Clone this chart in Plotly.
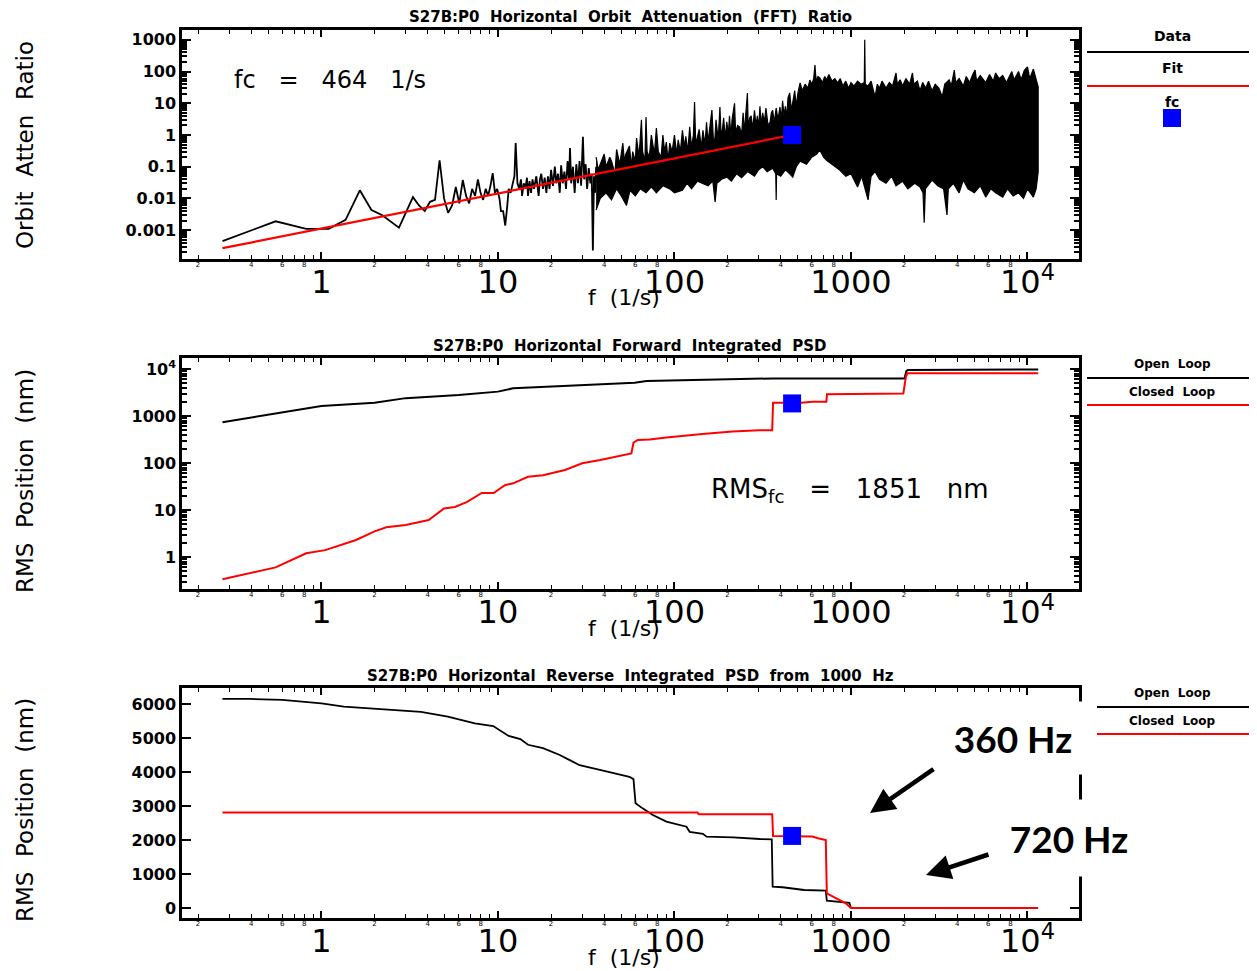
import numpy as np
import plotly.graph_objects as go

# ---------------- top panel: orbit attenuation (FFT) ratio ----------------
att_f = [0.275, 0.55, 0.82, 1.1, 1.37, 1.65, 1.92, 2.2, 2.75, 3.3, 3.57, 3.85, 4.12, 4.4,
         4.67, 4.95, 5.22, 5.5, 5.77, 6.04, 6.32, 6.6, 6.87, 7.14, 7.42, 7.7, 7.97, 8.24,
         8.52, 8.8, 9.07, 9.34, 9.62, 9.9, 10.2, 10.4, 10.7, 11.0, 11.3, 11.5, 11.8, 12.1,
         12.4, 12.6, 12.9, 13.2, 13.5, 13.7, 14.0, 14.3, 14.6, 14.8, 15.1, 15.4, 15.7, 16.0,
         16.5, 17.0, 17.3, 17.6, 18.0, 18.4, 18.8, 19.2, 19.6, 20.0, 20.5, 21.0, 21.4, 21.9,
         22.4, 22.8, 23.3, 23.8, 24.3, 24.8, 25.3, 25.6, 26.0, 26.6, 27.2, 27.8, 28.4, 29.0,
         29.6, 30.3, 30.8, 31.4, 32.0, 32.7, 33.4, 34.0, 34.5, 35.0, 35.5, 36.0]
att_v = [0.00045, 0.0019, 0.0011, 0.0011, 0.0021, 0.018, 0.0043, 0.003, 0.0012, 0.011, 0.006,
         0.004, 0.0078, 0.009, 0.16, 0.01, 0.0035, 0.006, 0.023, 0.007, 0.038, 0.012, 0.007,
         0.02, 0.012, 0.04, 0.015, 0.009, 0.02, 0.012, 0.025, 0.063, 0.015, 0.02, 0.01, 0.004,
         0.004, 0.0014, 0.006, 0.02, 0.015, 0.03, 0.05, 0.56, 0.03, 0.02, 0.04, 0.012, 0.03,
         0.02, 0.045, 0.012, 0.035, 0.015, 0.04, 0.02, 0.05, 0.012, 0.04, 0.06, 0.02, 0.045,
         0.015, 0.05, 0.02, 0.08, 0.025, 0.1, 0.03, 0.06, 0.015, 0.11, 0.03, 0.07, 0.02, 0.15,
         0.04, 0.39, 0.03, 0.1, 0.015, 0.12, 0.03, 0.15, 0.025, 0.87, 0.04, 0.12, 0.02, 0.09,
         0.03, 0.06, 0.00023, 0.05, 0.015, 0.1]

# dense part of the spectrum: upper and lower envelope of the noise band
band_hi_f = [36, 37, 38, 40, 41, 43, 44, 46, 47, 49, 51, 52, 53, 55.6, 57, 58, 60, 61, 63, 65,
             66, 68, 69, 70, 72, 74, 77, 79, 81, 84, 86, 88, 90, 92, 94, 97, 100, 103, 105, 108,
             111, 114, 116, 119, 122, 125, 128, 130, 132, 135, 138, 142, 145, 149, 152, 155,
             158, 163, 166, 169, 172, 177, 181, 184, 187, 190, 194, 198, 202, 205, 209, 212, 219,
             222, 228, 234, 240, 245, 249, 252, 259, 262, 267, 272, 278, 284, 290, 295, 300, 305,
             310, 316, 323, 330, 339, 348, 354, 360, 368, 377, 386, 396, 403, 410, 418, 425, 432,
             440, 450, 460, 470, 480, 490, 500, 515, 530, 550, 570, 585, 600, 615, 625, 635, 650,
             666, 690, 710, 727, 750, 780, 810, 840, 870, 900, 935, 970, 1000, 1040, 1090, 1140,
             1190, 1197, 1205, 1250, 1300, 1370, 1410, 1450, 1500, 1580, 1650, 1720, 1800, 1830,
             1900, 1960, 2050, 2150, 2230, 2270, 2380, 2460, 2550, 2650, 2750, 2880, 3000, 3150,
             3290, 3400, 3600, 3700, 3850, 3920, 4100, 4330, 4500, 4700, 4900, 5050, 5150, 5400,
             5800, 6100, 6400, 6600, 6900, 7240, 7600, 8150, 8400, 8900, 9200, 9600, 10000,
             10300, 10800, 11100, 11500]
band_hi = [0.2, 0.08, 0.12, 0.25, 0.1, 0.2, 0.15, 0.06, 0.35, 0.12, 0.56, 0.15, 0.25, 0.45,
           0.1, 0.3, 0.15, 0.8, 0.2, 3.0, 0.3, 0.15, 3.7, 0.3, 0.2, 1.0, 0.25, 1.66, 0.3, 0.2,
           1.0, 0.3, 0.6, 0.15, 0.56, 0.3, 1.0, 0.25, 0.7, 0.3, 1.4, 0.4, 0.9, 0.3, 1.8, 0.4, 1.0,
           11, 0.5, 0.8, 1.5, 0.4, 1.4, 0.5, 2.5, 0.6, 1.6, 6.1, 0.8, 0.6, 3.0, 0.7, 7.6, 0.9,
           1.5, 3.5, 0.8, 2.6, 1.0, 4.0, 0.9, 3.0, 10, 1.2, 2.0, 1.8, 1.0, 5, 1.2, 3, 21, 1.5,
           3.5, 4, 1.5, 6, 2.0, 4, 1.6, 8, 2, 5, 2.5, 7, 2.0, 2.5, 5, 6, 2.5, 7, 3, 7.6, 3, 12, 4,
           8, 3.5, 15, 21, 6, 12, 25, 8, 20, 44, 25, 40, 30, 54, 40, 60, 160, 50, 70, 63, 45, 70,
           55, 80, 50, 60, 44, 60, 35, 50, 30, 45, 35, 50, 40, 45, 1000, 40, 35, 50, 16, 40, 30,
           50, 30, 45, 35, 90, 40, 55, 35, 60, 40, 90, 40, 50, 25, 45, 30, 50, 25, 40, 30, 16,
           40, 55, 35, 112, 45, 60, 35, 70, 45, 80, 112, 50, 75, 45, 80, 50, 90, 60, 75, 45, 100,
           55, 100, 55, 110, 140, 60, 120, 70, 33]
band_lo_f = [36, 38, 41, 44, 47, 50, 53.5, 56, 60, 64, 69, 74, 79, 86, 94, 100, 111, 118, 125,
             135, 145, 155, 165, 170, 174, 185, 198, 210, 225, 240, 260, 284, 300, 316, 335, 360,
             375, 377, 379, 400, 425, 450, 468, 490, 515, 560, 600, 640, 666, 700, 727, 780, 860,
             935, 1000, 1090, 1150, 1250, 1300, 1370, 1450, 1580, 1700, 1800, 1960, 2100, 2300,
             2460, 2560, 2600, 2640, 2880, 3100, 3350, 3500, 3560, 3800, 4100, 4330, 4600, 5000,
             5400, 5800, 6200, 6600, 7240, 7700, 8300, 8900, 9500, 10000, 10800, 11200, 11500]
band_lo = [0.0043, 0.01, 0.015, 0.009, 0.02, 0.012, 0.006, 0.018, 0.012, 0.02, 0.015, 0.023,
           0.015, 0.025, 0.02, 0.015, 0.018, 0.03, 0.02, 0.035, 0.03, 0.025, 0.035, 0.0077, 0.03,
           0.04, 0.047, 0.035, 0.06, 0.045, 0.07, 0.05, 0.08, 0.1, 0.07, 0.09, 0.06, 0.009, 0.06,
           0.05, 0.08, 0.06, 0.047, 0.1, 0.15, 0.12, 0.2, 0.25, 0.34, 0.2, 0.16, 0.12, 0.08, 0.05,
           0.06, 0.023, 0.05, 0.009, 0.05, 0.07, 0.04, 0.03, 0.05, 0.025, 0.035, 0.02, 0.03,
           0.023, 0.015, 0.0017, 0.02, 0.038, 0.025, 0.02, 0.003, 0.02, 0.03, 0.015, 0.038, 0.02,
           0.015, 0.025, 0.011, 0.02, 0.015, 0.011, 0.02, 0.012, 0.015, 0.01, 0.02, 0.011, 0.02,
           0.068]

fit_f = [0.275, 464]
fit_v = [0.00027, 1.0]
fc = 464
fc_ratio = 1.0

# ---------------- middle panel: forward integrated PSD ----------------
fwd_open_f = [0.275, 0.575, 1.0, 2.0, 3.0, 6.0, 10, 12.2, 27, 38, 54.6, 59.5, 69.5, 141, 362,
              2010, 2060, 2100, 11500]
fwd_open = [735, 1150, 1630, 1910, 2400, 2800, 3300, 3900, 4500, 4720, 4950, 5100, 5530, 5800,
            6300, 6300, 9000, 9500, 9800]
fwd_closed_f = [0.275, 0.55, 0.82, 1.05, 1.57, 2.0, 2.33, 3.0, 4.05, 4.95, 5.7, 6.65, 8.1, 9.45,
                11, 12.2, 14.8, 18, 24, 30, 38, 57, 58.6, 62, 72.5, 90, 144, 213, 302, 358, 362,
                524, 606, 725, 732, 1980, 2050, 2090, 11500]
fwd_closed = [0.335, 0.6, 1.2, 1.4, 2.3, 3.5, 4.3, 4.8, 6.1, 10.8, 11.6, 14.7, 23, 23, 34, 37, 51,
              55, 71, 99, 116, 160, 270, 310, 317, 350, 415, 470, 500, 500, 1910, 1910, 2000,
              2000, 2900, 3000, 7000, 8100, 8100]
rms_fc = 1851

# ---------------- bottom panel: reverse integrated PSD from 1000 Hz ----------------
rev_open_f = [0.275, 0.39, 0.6, 1.0, 1.34, 2.22, 3.66, 5.2, 6.0, 7.4, 9.4, 11.5, 13.4, 14.8, 18,
              22.4, 25.5, 29, 37.8, 55.6, 58.6, 60.2, 66, 75, 90, 117, 122, 145, 152, 215, 304,
              356, 360, 410, 543, 720, 730, 860, 980, 1000]
rev_open = [6150, 6150, 6120, 6020, 5920, 5850, 5770, 5630, 5550, 5430, 5350, 5060, 4970, 4800,
            4700, 4500, 4350, 4200, 4060, 3860, 3790, 3080, 2930, 2740, 2540, 2390, 2240, 2180,
            2100, 2080, 2030, 2020, 630, 610, 530, 510, 215, 185, 150, 0]
rev_closed_f = [0.275, 135, 137, 358, 362, 525, 605, 650, 720, 730, 780, 860, 935, 1000, 11500]
rev_closed = [2810, 2810, 2760, 2760, 2120, 2120, 2100, 2050, 2000, 430, 350, 235, 140, 0, 0]
rev_fc = 2120

# tick labels
x_decades = [0.1, 1, 10, 100, 1000, 10000]
x_dec_text = ['0.1', '1', '10', '100', '1000', '10<sup>4</sup>']
x_lab_mult = [2, 4, 6, 8]
x_min_mult = [2, 3, 4, 5, 6, 7, 8, 9]
att_ticks = [0.001, 0.01, 0.1, 1, 10, 100, 1000]
att_text = ['0.001', '0.01', '0.1', '1', '10', '100', '1000']
fwd_ticks = [1, 10, 100, 1000, 10000]
fwd_text = ['1', '10', '100', '1000', '10<sup>4</sup>']
rev_ticks = [0, 1000, 2000, 3000, 4000, 5000, 6000]

# the page puts the figure 8px in from the top-left corner
OFF = 8
W, H = 1257 - OFF, 971 - OFF
BLACK, RED, BLUE = '#000000', '#ff0000', '#0000ff'
FONT = 'DejaVu Sans'


def px(x):
    return (x - OFF) / W


def py(y):
    return (971 - y) / H


x_small_v, x_small_t, x_minor = [], [], []
for d in x_decades:
    for m in x_lab_mult:
        x_small_v.append(d * m)
        x_small_t.append(str(m))
    for m in x_min_mult:
        x_minor.append(d * m)

y_log_minor = [d * m for d in [1e-4, 1e-3, 1e-2, 1e-1, 1, 10, 100, 1000, 10000]
               for m in range(2, 10)]

xdom = [px(182), px(1079)]
xrng = [-0.79, 4.292]
ydoms = [[py(259), py(30)], [py(589), py(358)], [py(918), py(688)]]


def xaxis(anchor):
    return dict(type='log', range=xrng, domain=xdom, anchor=anchor,
                showline=True, linecolor=BLACK, linewidth=2.5, mirror='ticks',
                ticks='inside', ticklen=7, tickwidth=1.5, tickcolor=BLACK,
                tickmode='array', tickvals=x_decades, ticktext=x_dec_text, tickangle=0,
                ticklabelstandoff=-7,
                tickfont=dict(family=FONT, size=32, color=BLACK),
                minor=dict(tickmode='array', tickvals=x_minor, ticks='inside',
                           ticklen=4, tickwidth=1.2, tickcolor=BLACK),
                showgrid=False, zeroline=False, automargin=False)


def xaxis_small(over, anchor):
    # tiny labels of the 2,4,6,8 minor ticks
    return dict(type='log', range=xrng, domain=xdom, anchor=anchor, overlaying=over,
                showline=False, ticks='', tickmode='array', tickvals=x_small_v,
                ticktext=x_small_t, tickangle=0, tickfont=dict(family=FONT, size=7, color=BLACK),
                showgrid=False, zeroline=False, automargin=False)


def yaxis(anchor, dom, rng, tv, tt, log=True):
    d = dict(range=rng, domain=dom, anchor=anchor,
             showline=True, linecolor=BLACK, linewidth=2.5, mirror='ticks',
             ticks='inside', ticklen=9, tickwidth=2, tickcolor=BLACK,
             tickmode='array', tickvals=tv, ticktext=tt,
             tickfont=dict(family=FONT, size=16, color=BLACK, weight='bold'),
             showgrid=False, zeroline=False, automargin=False)
    if log:
        d['type'] = 'log'
        d['minor'] = dict(tickmode='array', tickvals=y_log_minor, ticks='inside',
                          ticklen=5, tickwidth=1.5, tickcolor=BLACK)
    return d


fig = go.Figure()

# top panel
fig.add_trace(go.Scatter(x=att_f, y=att_v, mode='lines', line=dict(color=BLACK, width=1.8),
                         xaxis='x', yaxis='y'))
fig.add_trace(go.Scatter(x=band_hi_f + band_lo_f[::-1], y=band_hi + band_lo[::-1],
                         mode='lines', fill='toself', fillcolor=BLACK,
                         line=dict(color=BLACK, width=1.2), xaxis='x', yaxis='y'))
fig.add_trace(go.Scatter(x=fit_f, y=fit_v, mode='lines', line=dict(color=RED, width=2.2),
                         xaxis='x', yaxis='y'))
fig.add_trace(go.Scatter(x=[fc], y=[fc_ratio], mode='markers',
                         marker=dict(symbol='square', size=18, color=BLUE), xaxis='x', yaxis='y'))

# middle panel
fig.add_trace(go.Scatter(x=fwd_open_f, y=fwd_open, mode='lines', line=dict(color=BLACK, width=2),
                         xaxis='x2', yaxis='y2'))
fig.add_trace(go.Scatter(x=fwd_closed_f, y=fwd_closed, mode='lines', line=dict(color=RED, width=2),
                         xaxis='x2', yaxis='y2'))
fig.add_trace(go.Scatter(x=[fc], y=[rms_fc], mode='markers',
                         marker=dict(symbol='square', size=18, color=BLUE), xaxis='x2', yaxis='y2'))

# bottom panel
fig.add_trace(go.Scatter(x=rev_open_f, y=rev_open, mode='lines', line=dict(color=BLACK, width=1.8),
                         xaxis='x3', yaxis='y3'))
fig.add_trace(go.Scatter(x=rev_closed_f, y=rev_closed, mode='lines', line=dict(color=RED, width=2),
                         xaxis='x3', yaxis='y3'))
fig.add_trace(go.Scatter(x=[fc], y=[rev_fc], mode='markers',
                         marker=dict(symbol='square', size=18, color=BLUE), xaxis='x3', yaxis='y3'))

# empty traces so the small-label axes get drawn
for xa, ya in [('x4', 'y'), ('x5', 'y2'), ('x6', 'y3')]:
    fig.add_trace(go.Scatter(x=[], y=[], mode='lines', xaxis=xa, yaxis=ya))

sp = '\u00a0\u00a0'
ann = []


def text(x, y, s, size, bold=False, family=FONT, **kw):
    f = dict(family=family, size=size, color=BLACK)
    if bold:
        f['weight'] = 'bold'
    ann.append(dict(x=x, y=y, xref='paper', yref='paper', text=s, showarrow=False,
                    font=f, xanchor='center', yanchor='middle', **kw))


# panel titles
text(px(630), py(17), sp.join(['S27B:P0', 'Horizontal', 'Orbit', 'Attenuation', '(FFT)', 'Ratio']), 15, True)
text(px(630), py(346), sp.join(['S27B:P0', 'Horizontal', 'Forward', 'Integrated', 'PSD']), 15, True)
text(px(630), py(676), sp.join(['S27B:P0', 'Horizontal', 'Reverse', 'Integrated', 'PSD', 'from', '1000', 'Hz']), 15, True)

# x titles
for yy in [298, 628, 957]:
    text(px(624), py(yy), 'f' + sp + '(1/s)', 22)

# y titles
text(px(25), py(145), sp.join(['Orbit', 'Atten', 'Ratio']), 23, textangle=-90)
text(px(25), py(481), sp.join(['RMS', 'Position', '(nm)']), 23, textangle=-90)
text(px(25), py(810), sp.join(['RMS', 'Position', '(nm)']), 23, textangle=-90)

# in-plot labels
s3 = '\u00a0\u00a0\u00a0'
text(px(330), py(80), s3.join(['fc', '=', '%d' % fc, '1/s']), 24)
text(px(850), py(490), s3.join(['RMS<sub>fc</sub>', '=', '%d' % rms_fc, 'nm']), 26)

# legends
text(px(1172), py(36), 'Data', 14, True)
text(px(1172), py(68), 'Fit', 14, True)
text(px(1172), py(102), 'fc', 14, True)
text(px(1172), py(364), 'Open' + sp + 'Loop', 12, True)
text(px(1172), py(392), 'Closed' + sp + 'Loop', 12, True)
text(px(1172), py(693), 'Open' + sp + 'Loop', 12, True)
text(px(1172), py(721), 'Closed' + sp + 'Loop', 12, True)

# callouts (white boxes hide the frame behind them)
ann.append(dict(x=px(1013), y=py(738), xref='paper', yref='paper', text='<b>360 Hz</b>',
                showarrow=False, font=dict(family='Lato', size=37, color=BLACK),
                bgcolor='white', width=140, height=72, borderpad=0,
                xanchor='center', yanchor='middle'))
ann.append(dict(x=px(1069), y=py(838), xref='paper', yref='paper', text='<b>720 Hz</b>',
                showarrow=False, font=dict(family='Lato', size=37, color=BLACK),
                bgcolor='white', width=140, height=76, borderpad=0,
                xanchor='center', yanchor='middle'))
ann.append(dict(x=3.108, y=2794, xref='x3', yref='y3', text='', showarrow=True,
                ax=65, ay=-45, arrowhead=2, arrowsize=1.1, arrowwidth=4.5, arrowcolor=BLACK))
ann.append(dict(x=3.425, y=970, xref='x3', yref='y3', text='', showarrow=True,
                ax=64, ay=-21, arrowhead=2, arrowsize=1.1, arrowwidth=4.5, arrowcolor=BLACK))

shapes = []
for yy, col, x0 in [(52, BLACK, 1087), (86, RED, 1087), (378, BLACK, 1087), (405, RED, 1087),
                    (707, BLACK, 1097), (734, RED, 1097)]:
    shapes.append(dict(type='line', xref='paper', yref='paper', x0=px(x0), x1=1.0,
                       y0=py(yy), y1=py(yy), line=dict(color=col, width=2)))
shapes.append(dict(type='rect', xref='paper', yref='paper', x0=px(1163), x1=px(1181),
                   y0=py(127), y1=py(109), fillcolor=BLUE, line=dict(width=0)))

fig.update_layout(
    width=W, height=H, margin=dict(l=0, r=0, t=0, b=0, autoexpand=False),
    paper_bgcolor='white', plot_bgcolor='white', showlegend=False,
    xaxis=xaxis('y'), xaxis2=xaxis('y2'), xaxis3=xaxis('y3'),
    xaxis4=xaxis_small('x', 'y'), xaxis5=xaxis_small('x2', 'y2'), xaxis6=xaxis_small('x3', 'y3'),
    yaxis=yaxis('x', ydoms[0], [-3.91, 3.31], att_ticks, att_text),
    yaxis2=yaxis('x2', ydoms[1], [-0.681, 4.234], fwd_ticks, fwd_text),
    yaxis3=yaxis('x3', ydoms[2], [-294, 6470], rev_ticks, [str(v) for v in rev_ticks], log=False),
    annotations=ann, shapes=shapes,
)

fig.write_html("out.html")
